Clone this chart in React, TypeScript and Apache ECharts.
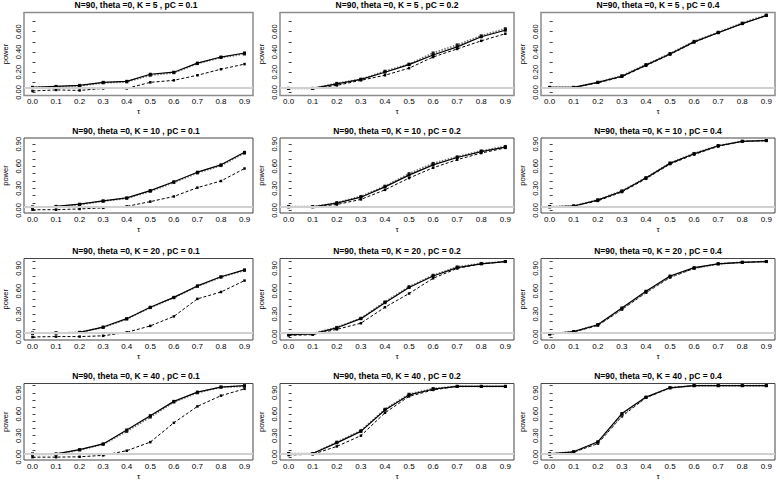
import { useEffect, useRef } from "react";
import * as echarts from "echarts";

const TAU = [0.0, 0.1, 0.2, 0.3, 0.4, 0.5, 0.6, 0.7, 0.8, 0.9];
const ROW_K = [5, 10, 20, 40];
const COL_PC = ["0.1", "0.2", "0.4"];
const Y_LABELS_ROW1 = [0, 0.2, 0.4, 0.6];
const Y_LABELS_OTHER = [0, 0.3, 0.6, 0.9];
const Y_TICKS_ROW1 = [0, 0.1, 0.2, 0.3, 0.4, 0.5, 0.6, 0.7];
const Y_TICKS_OTHER = [0, 0.1, 0.2, 0.3, 0.4, 0.5, 0.6, 0.7, 0.8, 0.9, 1.0];
const ALPHA = 0.05;

// K = 5
const K5_P01_SOLID = [0.05, 0.06, 0.07, 0.1, 0.11, 0.18, 0.2, 0.29, 0.35, 0.39];
const K5_P01_DOTTED = [0.05, 0.055, 0.065, 0.095, 0.105, 0.17, 0.195, 0.285, 0.345, 0.38];
const K5_P01_DASHED = [0.015, 0.025, 0.02, 0.04, 0.04, 0.1, 0.12, 0.17, 0.23, 0.28];
const K5_P02_SOLID = [0.04, 0.04, 0.085, 0.13, 0.2, 0.275, 0.37, 0.45, 0.55, 0.615];
const K5_P02_DOTTED = [0.04, 0.04, 0.09, 0.13, 0.21, 0.28, 0.39, 0.47, 0.56, 0.63];
const K5_P02_DASHED = [0.04, 0.04, 0.07, 0.12, 0.17, 0.24, 0.35, 0.43, 0.51, 0.58];
const K5_P04_SOLID = [0.05, 0.05, 0.1, 0.16, 0.27, 0.38, 0.5, 0.59, 0.68, 0.76];
const K5_P04_DOTTED = [0.05, 0.05, 0.1, 0.165, 0.275, 0.385, 0.505, 0.595, 0.685, 0.765];
const K5_P04_DASHED = [0.05, 0.05, 0.095, 0.155, 0.265, 0.375, 0.495, 0.59, 0.68, 0.76];
// K = 10
const K10_P01_SOLID = [0.045, 0.055, 0.085, 0.13, 0.17, 0.27, 0.39, 0.52, 0.62, 0.79];
const K10_P01_DOTTED = [0.045, 0.05, 0.08, 0.125, 0.165, 0.26, 0.38, 0.51, 0.61, 0.78];
const K10_P01_DASHED = [0.01, 0.01, 0.02, 0.035, 0.055, 0.12, 0.19, 0.31, 0.4, 0.57];
const K10_P02_SOLID = [0.05, 0.05, 0.1, 0.18, 0.32, 0.48, 0.62, 0.72, 0.8, 0.86];
const K10_P02_DOTTED = [0.05, 0.05, 0.105, 0.19, 0.33, 0.5, 0.64, 0.73, 0.81, 0.87];
const K10_P02_DASHED = [0.05, 0.05, 0.08, 0.15, 0.28, 0.44, 0.58, 0.69, 0.78, 0.85];
const K10_P04_SOLID = [0.05, 0.06, 0.14, 0.26, 0.44, 0.64, 0.77, 0.88, 0.94, 0.95];
const K10_P04_DOTTED = [0.05, 0.06, 0.145, 0.265, 0.445, 0.645, 0.775, 0.88, 0.94, 0.95];
const K10_P04_DASHED = [0.05, 0.06, 0.13, 0.25, 0.43, 0.63, 0.76, 0.87, 0.94, 0.95];
// K = 20
const K20_P01_SOLID = [0.05, 0.055, 0.06, 0.13, 0.24, 0.39, 0.52, 0.67, 0.79, 0.88];
const K20_P01_DOTTED = [0.05, 0.05, 0.06, 0.125, 0.235, 0.385, 0.515, 0.665, 0.785, 0.875];
const K20_P01_DASHED = [0.0, 0.005, 0.005, 0.015, 0.06, 0.145, 0.27, 0.5, 0.59, 0.74];
const K20_P02_SOLID = [0.03, 0.04, 0.12, 0.24, 0.45, 0.65, 0.8, 0.91, 0.96, 0.99];
const K20_P02_DOTTED = [0.03, 0.045, 0.125, 0.245, 0.46, 0.66, 0.81, 0.92, 0.965, 0.99];
const K20_P02_DASHED = [0.02, 0.03, 0.1, 0.18, 0.39, 0.57, 0.77, 0.9, 0.96, 0.99];
const K20_P04_SOLID = [0.04, 0.07, 0.16, 0.38, 0.6, 0.8, 0.91, 0.96, 0.98, 0.99];
const K20_P04_DOTTED = [0.04, 0.07, 0.16, 0.37, 0.59, 0.79, 0.9, 0.96, 0.98, 0.99];
const K20_P04_DASHED = [0.04, 0.065, 0.15, 0.36, 0.58, 0.78, 0.9, 0.96, 0.98, 0.99];
// K = 40
const K40_P01_SOLID = [0.045, 0.045, 0.105, 0.185, 0.38, 0.58, 0.78, 0.91, 0.98, 1.0];
const K40_P01_DOTTED = [0.04, 0.04, 0.1, 0.18, 0.36, 0.56, 0.77, 0.9, 0.98, 0.99];
const K40_P01_DASHED = [0.0, 0.0, 0.005, 0.025, 0.09, 0.21, 0.48, 0.71, 0.86, 0.955];
const K40_P02_SOLID = [0.05, 0.05, 0.2, 0.36, 0.66, 0.87, 0.95, 0.99, 0.99, 0.99];
const K40_P02_DOTTED = [0.05, 0.05, 0.21, 0.37, 0.67, 0.88, 0.96, 0.99, 0.99, 0.99];
const K40_P02_DASHED = [0.03, 0.04, 0.15, 0.3, 0.62, 0.85, 0.94, 0.99, 0.99, 0.99];
const K40_P04_SOLID = [0.045, 0.075, 0.215, 0.61, 0.84, 0.97, 1.0, 1.0, 1.0, 1.0];
const K40_P04_DOTTED = [0.045, 0.075, 0.2, 0.59, 0.835, 0.97, 1.0, 1.0, 1.0, 1.0];
const K40_P04_DASHED = [0.045, 0.07, 0.19, 0.57, 0.83, 0.97, 1.0, 1.0, 1.0, 1.0];

const PANELS = [
  [K5_P01_SOLID, K5_P01_DOTTED, K5_P01_DASHED],
  [K5_P02_SOLID, K5_P02_DOTTED, K5_P02_DASHED],
  [K5_P04_SOLID, K5_P04_DOTTED, K5_P04_DASHED],
  [K10_P01_SOLID, K10_P01_DOTTED, K10_P01_DASHED],
  [K10_P02_SOLID, K10_P02_DOTTED, K10_P02_DASHED],
  [K10_P04_SOLID, K10_P04_DOTTED, K10_P04_DASHED],
  [K20_P01_SOLID, K20_P01_DOTTED, K20_P01_DASHED],
  [K20_P02_SOLID, K20_P02_DOTTED, K20_P02_DASHED],
  [K20_P04_SOLID, K20_P04_DOTTED, K20_P04_DASHED],
  [K40_P01_SOLID, K40_P01_DOTTED, K40_P01_DASHED],
  [K40_P02_SOLID, K40_P02_DOTTED, K40_P02_DASHED],
  [K40_P04_SOLID, K40_P04_DOTTED, K40_P04_DASHED],
];

// layout
const COL_LEFT = [19, 280, 541];
const BOX_W = 234;
const ROW_TOP = [12.5, 138, 258.5, 383.5];
const ROW_BOTTOM = [95.5, 213, 340, 463.5];
const ROW_YMIN = [-0.03, -0.035, -0.04, -0.04];
const ROW_YMAX = [0.79, 0.985, 1.03, 1.03];

const FONT = "Liberation Sans, Arial, sans-serif";

export default function App() {
  const ref = useRef<HTMLDivElement>(null);
  useEffect(() => {
    if (!ref.current) return;
    const chart = echarts.init(ref.current, undefined, { renderer: "svg" });
    const grids: any[] = [];
    const xAxes: any[] = [];
    const yAxes: any[] = [];
    const series: any[] = [];
    const graphics: any[] = [];

    for (let r = 0; r < 4; r++) {
      for (let c = 0; c < 3; c++) {
        const i = r * 3 + c;
        const top = ROW_TOP[r];
        const h = ROW_BOTTOM[r] - top;
        const left = COL_LEFT[c];
        grids.push({
          left,
          top,
          width: BOX_W,
          height: h,
          show: true,
          borderColor: r === 0 ? "#8c8c8c" : "#444",
          borderWidth: r === 0 ? 1.5 : 1,
          backgroundColor: "transparent",
        });
        xAxes.push({
          type: "value",
          gridIndex: i,
          min: -0.036,
          max: 0.936,
          axisLine: { show: false },
          splitLine: { show: false },
          axisTick: { show: false },
          axisLabel: {
            customValues: TAU,
            formatter: (v: number) => v.toFixed(1),
            fontSize: 8,
            fontFamily: FONT,
            color: "#000",
            margin: 2,
          },
          name: "τ",
          nameLocation: "middle",
          nameGap: 12,
          nameTextStyle: { fontSize: 8, fontFamily: FONT, color: "#000" },
        });
        const yl = r === 0 ? Y_LABELS_ROW1 : Y_LABELS_OTHER;
        const yt = r === 0 ? Y_TICKS_ROW1 : Y_TICKS_OTHER;
        yAxes.push({
          type: "value",
          gridIndex: i,
          min: ROW_YMIN[r],
          max: ROW_YMAX[r],
          axisLine: { show: false },
          splitLine: { show: false },
          axisTick: { show: true, inside: true, length: 3, customValues: yt, lineStyle: { color: "#444" } },
          axisLabel: {
            customValues: yl,
            formatter: (v: number) => v.toFixed(2),
            rotate: 90,
            fontSize: 7.5,
            fontFamily: FONT,
            color: "#000",
            margin: 2,
          },
          name: "power",
          nameLocation: "middle",
          nameGap: 15,
          nameTextStyle: { fontSize: 7.5, fontFamily: FONT, color: "#000" },
        });
        graphics.push({
          type: "text",
          x: left + BOX_W / 2,
          y: top - 7.5,
          style: {
            text: `N=90, theta =0, K = ${ROW_K[r]} , pC = ${COL_PC[c]}`,
            font: `bold 8.5px ${FONT}`,
            fill: "#000",
            textAlign: "center",
            textVerticalAlign: "middle",
          },
        });
        const [solid, dotted, dashed] = PANELS[i];
        const toData = (arr: number[]) => TAU.map((t, j) => [t, arr[j]]);
        series.push({
          type: "line",
          xAxisIndex: i,
          yAxisIndex: i,
          data: [],
          z: 1,
          silent: true,
          markLine: {
            silent: true,
            symbol: "none",
            label: { show: false },
            lineStyle: { color: "#d0d0d0", width: 2, type: "solid" },
            data: [{ yAxis: ALPHA }],
          },
        });
        series.push({
          type: "line",
          xAxisIndex: i,
          yAxisIndex: i,
          data: toData(dashed),
          z: 2,
          symbol: "rect",
          symbolSize: 2.5,
          itemStyle: { color: "#000" },
          lineStyle: { color: "#000", width: 1, type: [3, 2] },
        });
        series.push({
          type: "line",
          xAxisIndex: i,
          yAxisIndex: i,
          data: toData(dotted),
          z: 3,
          symbol: "rect",
          symbolSize: 3,
          itemStyle: { color: "#222" },
          lineStyle: { color: "#777", width: 1.8, type: [1.5, 1.5] },
        });
        series.push({
          type: "line",
          xAxisIndex: i,
          yAxisIndex: i,
          data: toData(solid),
          z: 4,
          symbol: "rect",
          symbolSize: 3,
          itemStyle: { color: "#000" },
          lineStyle: { color: "#000", width: 1.2, type: "solid" },
        });
      }
    }

    chart.setOption({
      animation: false,
      backgroundColor: "#fff",
      grid: grids,
      xAxis: xAxes,
      yAxis: yAxes,
      series,
      graphic: graphics,
    });
    return () => chart.dispose();
  }, []);
  return (
    <div
      ref={ref}
      style={{ position: "fixed", left: 0, top: 0, width: 778, height: 481 }}
    />
  );
}
